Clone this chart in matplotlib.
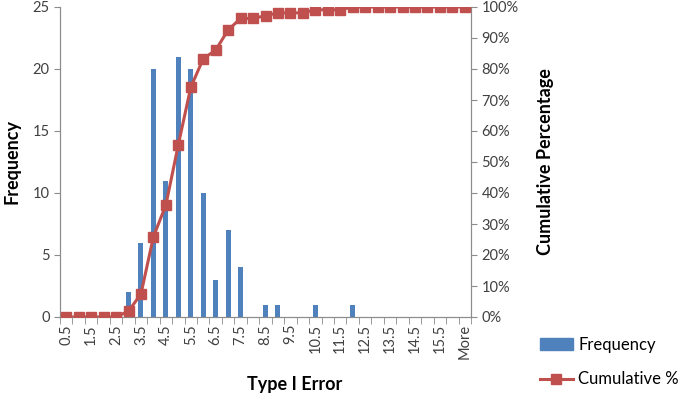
import matplotlib
matplotlib.use("Agg")
import matplotlib.pyplot as plt
from matplotlib.patches import Patch
from matplotlib.lines import Line2D
from matplotlib.ticker import PercentFormatter

plt.rcParams['font.family'] = ['Lato', 'DejaVu Sans']

# bins (upper edges) as labelled by Excel's histogram tool
bins = [f"{0.5 * k:g}" for k in range(1, 33)] + ["More"]
frequency = [0, 0, 0, 0, 0, 2, 6, 20, 11, 21, 20, 10, 3, 7, 4, 0,
             1, 1, 0, 0, 1, 0, 0, 1, 0, 0, 0, 0, 0, 0, 0, 0, 0]
cumulative = [0, 0, 0, 0, 0, 1.9, 7.4, 25.9, 36.1, 55.6, 74.1, 83.3, 86.1,
              92.6, 96.3, 96.3, 97.2, 98.1, 98.1, 98.1, 99.1, 99.1, 99.1,
              100, 100, 100, 100, 100, 100, 100, 100, 100, 100]

bar_color = "#4F81BD"
line_color = "#C0504D"
axis_color = "#8C8C8C"
text_color = "#404040"

fig = plt.figure(figsize=(6.85, 3.98), dpi=100)
ax = fig.add_axes([60 / 685, 81 / 398, 411 / 685, 310 / 398])
ax2 = ax.twinx()

x = list(range(len(bins)))
ax.bar(x, frequency, width=0.4, color=bar_color, zorder=2)
ax2.plot(x, cumulative, color=line_color, lw=2.2, marker="s", markersize=6.5,
         markeredgecolor=line_color, zorder=3)

ax.set_xlim(-0.5, len(bins) - 0.5)
ax.set_ylim(0, 25)
ax.set_yticks(range(0, 26, 5))
ax2.set_ylim(0, 100)
ax2.set_yticks(range(0, 101, 10))
ax2.yaxis.set_major_formatter(PercentFormatter(decimals=0))

# every other category label, ticks at category boundaries
ax.set_xticks(x[::2])
ax.set_xticklabels(bins[::2], rotation=90)
ax.set_xticks([i - 0.5 for i in range(len(bins) + 1)], minor=True)
ax.tick_params(axis="x", which="major", length=0, pad=5)
ax.tick_params(axis="x", which="minor", length=5, color=axis_color)

for a in (ax, ax2):
    a.spines["top"].set_visible(False)
    for s in ("left", "right", "bottom"):
        a.spines[s].set_color(axis_color)
    a.tick_params(axis="y", colors=axis_color, labelcolor=text_color,
                  labelsize=10.5, length=4)
ax.tick_params(axis="x", labelcolor=text_color, labelsize=10.5)

ax.set_ylabel("Frequency", fontsize=13, fontweight="bold", color="black")
ax.yaxis.set_label_coords(-0.095, 0.5)
ax2.set_ylabel("Cumulative Percentage", fontsize=13, fontweight="bold", color="black")
ax2.yaxis.set_label_coords(1.161, 0.5)
ax.set_xlabel("Type I Error", fontsize=13, fontweight="bold", color="black")
ax.xaxis.set_label_coords(0.572, -0.19)

handles = [Patch(color=bar_color),
           Line2D([0], [0], color=line_color, lw=2.2, marker="s", markersize=6.5)]
fig.legend(handles, ["Frequency", "Cumulative %"], loc="lower left",
           bbox_to_anchor=(533 / 685, 4 / 398), frameon=False, fontsize=12,
           labelspacing=1.1, handlelength=2.0, handletextpad=0.3, labelcolor="black",
           borderaxespad=0)

fig.savefig("out.png", dpi=100)
